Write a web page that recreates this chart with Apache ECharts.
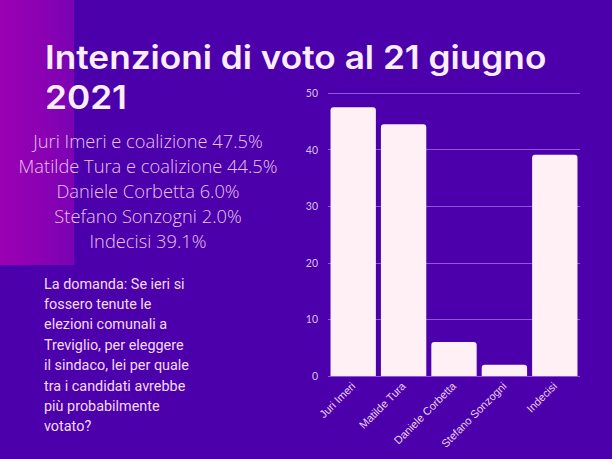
<!DOCTYPE html>
<html>
<head>
<meta charset="utf-8">
<script src="https://cdn.jsdelivr.net/npm/echarts@6/dist/echarts.min.js"></script>
<style>
html,body{margin:0;padding:0;background:#4c00ab;}
#c{width:612px;height:459px;}
</style>
</head>
<body>
<div id="c"></div>
<script>
const categories = ['Juri Imeri', 'Matilde Tura', 'Daniele Corbetta', 'Stefano Sonzogni', 'Indecisi'];
const values = [47.5, 44.5, 6.0, 2.0, 39.1];
const titleLines = ['Intenzioni di voto al 21 giugno', '2021'];
const resultLines = [
  'Juri Imeri e coalizione 47.5%',
  'Matilde Tura e coalizione 44.5%',
  'Daniele Corbetta 6.0%',
  'Stefano Sonzogni 2.0%',
  'Indecisi 39.1%'
];
const questionLines = [
  'La domanda: Se ieri si',
  'fossero tenute le',
  'elezioni comunali a',
  'Treviglio, per eleggere',
  'il sindaco, lei per quale',
  'tra i candidati avrebbe',
  'più probabilmente',
  'votato?'
];

const chart = echarts.init(document.getElementById('c'), null, {renderer: 'svg'});

const graphics = [
  {
    type: 'rect', z: 0, silent: true,
    shape: {x: 0, y: 0, width: 74, height: 265},
    style: {fill: new echarts.graphic.LinearGradient(0, 0, 1, 0, [
      {offset: 0, color: '#9c00b2'},
      {offset: 1, color: '#7b02b3'}
    ])}
  }
];
titleLines.forEach((t, i) => graphics.push({
  type: 'text', z: 10, x: 45, y: 41 + i * 40, scaleX: 1.1,
  style: {text: t, fill: '#fbeefc', font: '600 32px Inter', align: 'left', verticalAlign: 'top'}
}));
resultLines.forEach((t, i) => graphics.push({
  type: 'text', z: 10, x: 148, y: 140 + i * 25,
  style: {text: t, fill: '#e9c3f0', font: '300 18.3px "Open Sans"', align: 'center', verticalAlign: 'middle'}
}));
questionLines.forEach((t, i) => graphics.push({
  type: 'text', z: 10, x: 44, y: 284 + i * 20.4,
  style: {text: t, fill: '#f3dcf5', font: '14.4px Roboto', align: 'left', verticalAlign: 'middle'}
}));

chart.setOption({
  backgroundColor: '#4c00ab',
  animation: false,
  grid: {left: 328, right: 32, top: 93, bottom: 83},
  xAxis: {
    type: 'category',
    data: categories,
    axisLine: {show: false},
    axisTick: {show: false},
    axisLabel: {rotate: 45, color: '#ecd2f2', fontSize: 11, fontFamily: 'Liberation Sans', margin: 8, interval: 0}
  },
  yAxis: {
    type: 'value', min: 0, max: 50, interval: 10,
    axisLine: {show: false},
    axisTick: {show: false},
    axisLabel: {color: '#ddc0ee', fontSize: 10.5, fontFamily: 'Lato', margin: 10},
    splitLine: {lineStyle: {color: 'rgba(190,140,255,0.6)', width: 1}}
  },
  series: [{
    type: 'bar',
    data: values,
    barCategoryGap: '10%',
    itemStyle: {color: '#fff0f6', borderRadius: [3, 3, 0, 0]}
  }],
  graphic: graphics
});
</script>
</body>
</html>
